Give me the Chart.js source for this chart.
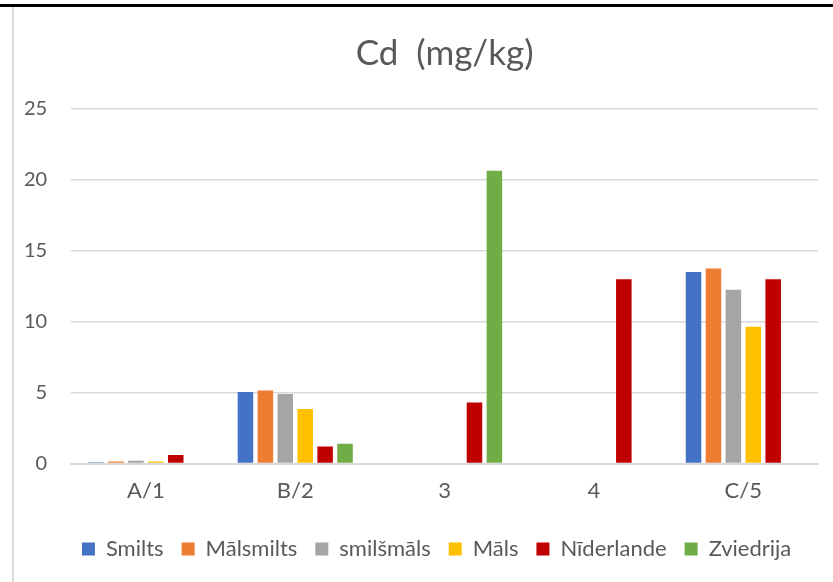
<!DOCTYPE html>
<html>
<head>
<meta charset="utf-8">
<script src="https://cdn.jsdelivr.net/npm/chart.js@4/dist/chart.umd.min.js"></script>
<style>
    html, body { margin: 0; padding: 0; background: #fff; }
    #wrap { position: relative; width: 833px; height: 582px; overflow: hidden; }
    #topLine { position: absolute; left: 0; top: 4px; width: 833px; height: 3px; background: #000; }
    #leftLine { position: absolute; left: 12px; top: 7px; width: 2px; height: 575px; background: #d9d9d9; }
    canvas { position: absolute; left: 0; top: 0; }
</style>
</head>
<body>
<div id="wrap">
    <canvas id="cdChart" width="833" height="582"></canvas>
    <div id="topLine"></div>
    <div id="leftLine"></div>
</div>
<script>
const categories = ['A/1', 'B/2', '3', '4', 'C/5'];

const smilts     = [0.1, 5.05, null, null, 13.5];
const malsmilts  = [0.15, 5.15, null, null, 13.75];
const smilsmals  = [0.2, 4.9, null, null, 12.25];
const mals       = [0.15, 3.85, null, null, 9.65];
const niderlande = [0.6, 1.2, 4.3, 13.0, 13.0];
const zviedrija  = [null, 1.4, 20.65, null, null];

const seriesNames = ['Smilts', 'Mālsmilts', 'smilšmāls', 'Māls', 'Nīderlande', 'Zviedrija'];
const seriesColors = ['#4472C4', '#ED7D31', '#A5A5A5', '#FFC000', '#C00000', '#70AD47'];
const seriesData = [smilts, malsmilts, smilsmals, mals, niderlande, zviedrija];

Chart.defaults.font.family = 'Lato, "Open Sans", sans-serif';
Chart.defaults.color = '#595959';

// title and legend are centred on the plot area in the original, not on the canvas
const centerOnPlot = {
    id: 'centerOnPlot',
    afterLayout(chart) {
        const mid = (chart.chartArea.left + chart.chartArea.right) / 2;
        const t = chart.titleBlock;
        const dxT = mid - (t.left + t.right) / 2;
        t.left += dxT;
        t.right += dxT;
        const l = chart.legend;
        const dxL = mid - 8 - (l.left + l.right) / 2;
        l.left += dxL;
        l.right += dxL;
        l.top += 2;
        l.bottom += 2;
    }
};

const ctx = document.getElementById('cdChart').getContext('2d');
const cdChart = new Chart(ctx, {
    type: 'bar',
    data: {
        labels: categories,
        datasets: seriesNames.map((name, i) => ({
            label: name,
            data: seriesData[i],
            backgroundColor: seriesColors[i],
            borderWidth: 0,
            categoryPercentage: 0.8,
            barPercentage: 0.78
        }))
    },
    options: {
        responsive: false,
        animation: false,
        layout: {
            padding: { left: 0, right: 15, top: 23, bottom: 14 }
        },
        plugins: {
            title: {
                display: true,
                text: 'Cd  (mg/kg)',
                font: { size: 35, weight: 'normal' },
                color: '#595959',
                padding: { top: 10, bottom: 34 }
            },
            legend: {
                position: 'bottom',
                labels: {
                    boxWidth: 13,
                    boxHeight: 13,
                    padding: 18,
                    font: { size: 22 },
                    color: '#595959'
                }
            },
            tooltip: { enabled: false }
        },
        scales: {
            x: {
                grid: { display: false, drawTicks: false },
                border: { color: '#d9d9d9', width: 2 },
                ticks: { font: { size: 22 }, color: '#595959', padding: 14 }
            },
            y: {
                min: 0,
                max: 25,
                ticks: { stepSize: 5, font: { size: 20 }, color: '#595959', padding: 24 },
                grid: { color: '#d9d9d9', lineWidth: 1.5, drawTicks: false },
                border: { display: false }
            }
        }
    },
    plugins: [centerOnPlot]
});
</script>
</body>
</html>
